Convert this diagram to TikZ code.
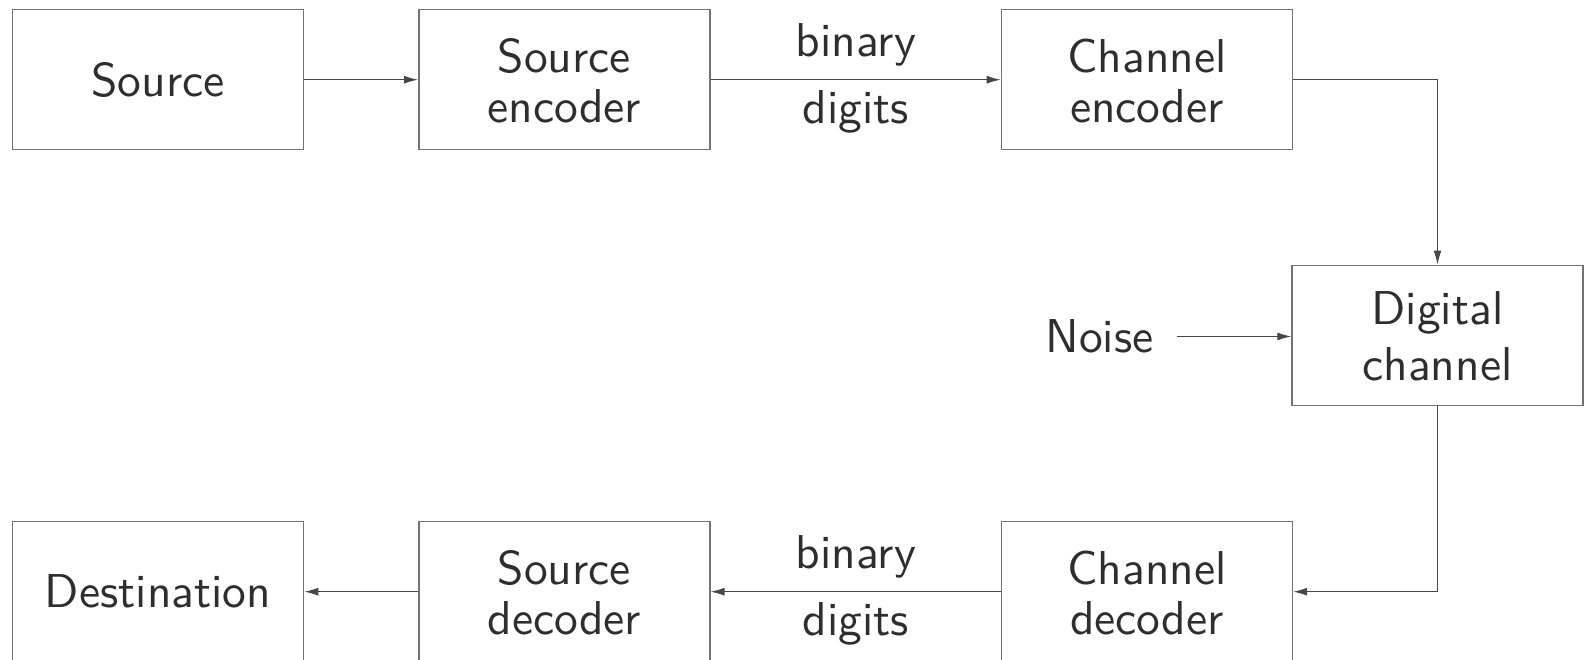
\documentclass[tikz,border=0pt]{standalone}
\usepackage{fontspec}
\setsansfont{lmsans10-regular.otf}
\usetikzlibrary{arrows.meta}
\newcommand\firststrut{\rule{0pt}{37pt}}
\begin{document}
\begin{tikzpicture}[x=1pt,y=-1pt,
  txt/.style={text=black!82, font=\sffamily\fontsize{47.5}{50}\selectfont},
  box/.style={txt, draw=black!55, line width=1.4pt, minimum width=291pt, minimum height=140pt, inner sep=0pt, align=center},
  lbl/.style={txt, inner sep=0pt, anchor=base},
  conn/.style={draw=black!72, line width=1.2pt, -{Latex[length=14pt,width=8pt]}}]
\useasboundingbox (0,0) rectangle (1584,659);
% top row
\node[box] (src)  at (158.1,79.7) {Source};
\node[box] (senc) at (564.3,79.7) {\firststrut Source\\encoder};
\node[box] (cenc) at (1146.9,79.7) {\firststrut Channel\\encoder};
% channel
\node[box] (dch)  at (1437.5,335.2) {\rule{0pt}{35.5pt}Digital\\[5.5pt]channel};
% bottom row
\node[box] (dst)  at (158.1,591.7) {Destination};
\node[box] (sdec) at (564.3,591.7) {\firststrut Source\\decoder};
\node[box] (cdec) at (1146.9,591.7) {\firststrut Channel\\decoder};
% labels
\node[lbl] (b1) at (855.8,56.7) {binary};
\node[lbl] (d1) at (855.8,123.3) {digits};
\node[lbl] (b2) at (855.8,568.7) {binary};
\node[lbl] (d2) at (855.8,635.3) {digits};
\node[lbl, inner xsep=23pt] (noise) at (1099.5,352.7) {Noise};
% connectors
\draw[conn] (src) -- (senc);
\draw[conn] (senc) -- (cenc);
\draw[conn] (cenc.east) -| (dch.north);
\draw[conn] (dch.south) |- (cdec.east);
\draw[conn] (cdec) -- (sdec);
\draw[conn] (sdec) -- (dst);
\draw[conn] (noise.east) -- (noise.east -| dch.west);
\end{tikzpicture}
\end{document}
